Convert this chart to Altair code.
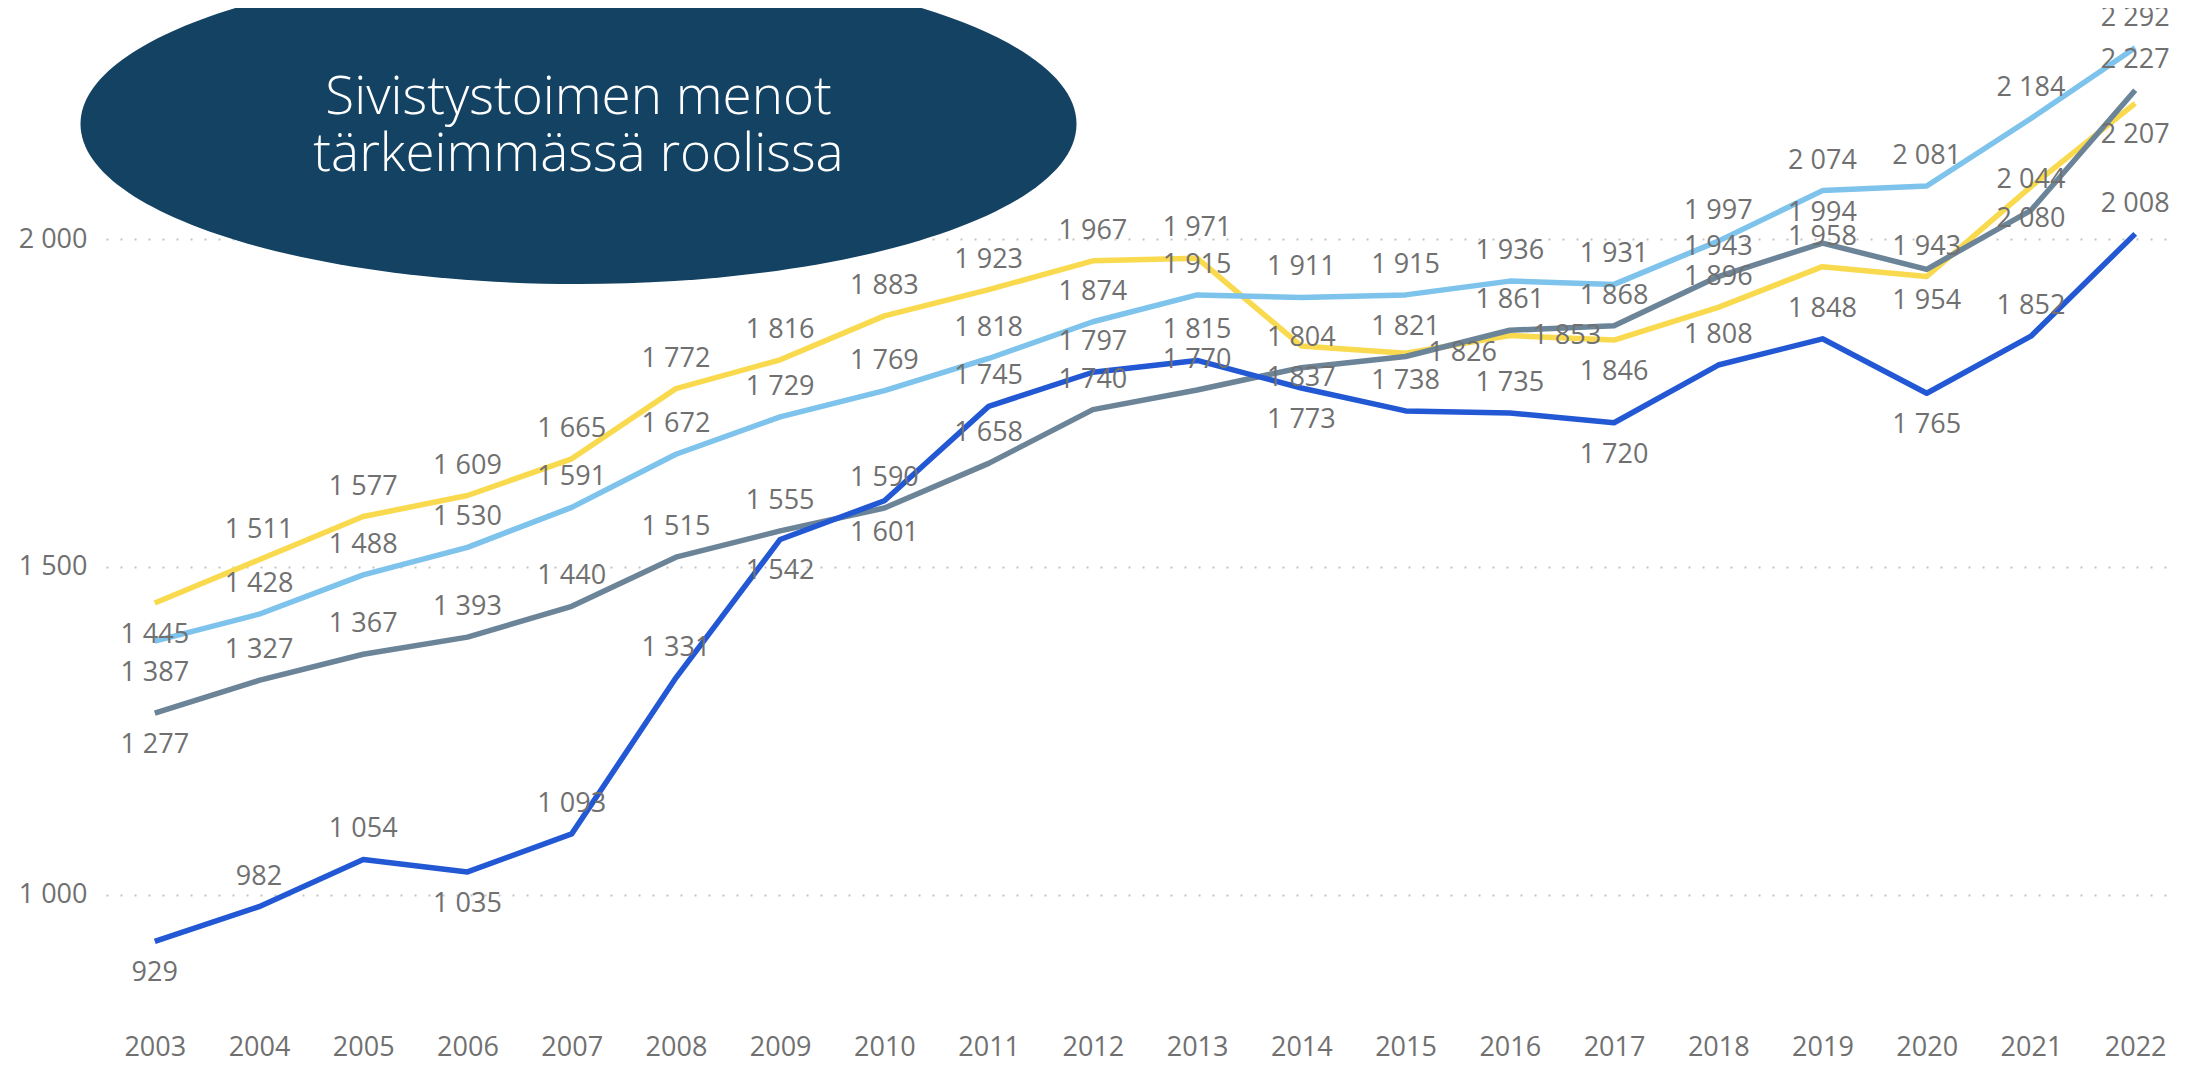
import altair as alt
import pandas as pd

# ---------------- data ----------------
years = list(range(2003, 2023))
series_names = ["Sarja 1", "Sarja 2", "Sarja 3", "Sarja 4"]
series_colors = ["#F9DA4E", "#7DC3EC", "#6C8498", "#2258D4"]

yellow = [1445, 1511, 1577, 1609, 1665, 1772, 1816, 1883, 1923, 1967,
          1971, 1837, 1826, 1853, 1846, 1896, 1958, 1943, 2080, 2207]
light_blue = [1387, 1428, 1488, 1530, 1591, 1672, 1729, 1769, 1818, 1874,
              1915, 1911, 1915, 1936, 1931, 1997, 2074, 2081, 2184, 2292]
gray = [1277, 1327, 1367, 1393, 1440, 1515, 1555, 1590, 1658, 1740,
        1770, 1804, 1821, 1861, 1868, 1943, 1994, 1954, 2044, 2227]
dark_blue = [929, 982, 1054, 1035, 1093, 1331, 1542, 1601, 1745, 1797,
             1815, 1773, 1738, 1735, 1720, 1808, 1848, 1765, 1852, 2008]

# label placement relative to the point: a = above, b = below, r = right
yellow_side = ["b", "a", "a", "a", "a", "a", "a", "a", "a", "a",
               "a", "b", "r", "r", "b", "a", "a", "a", "b", "b"]
light_blue_side = ["b"] + ["a"] * 19
gray_side = ["b", "a", "a", "a", "a", "a", "a", "a", "a", "a",
             "a", "a", "a", "a", "a", "a", "a", "b", "a", "a"]
dark_blue_side = ["b", "a", "a", "b", "a", "a", "b", "b", "a", "a",
                  "a", "b", "a", "a", "b", "a", "a", "b", "a", "a"]

y_ticks = [1000, 1500, 2000]
title_lines = ["Sivistystoimen menot", "tärkeimmässä roolissa"]

rows = []
for name, vals, sides in zip(series_names,
                             [yellow, light_blue, gray, dark_blue],
                             [yellow_side, light_blue_side, gray_side, dark_blue_side]):
    for yr, v, s in zip(years, vals, sides):
        rows.append({"year": yr, "series": name, "value": v, "side": s})
df = pd.DataFrame(rows)

# ---------------- styling ----------------
FONT = "Open Sans"
LABEL_COLOR = "#707070"
FS = 27

x_enc = alt.X(
    "year:Q",
    scale=alt.Scale(domain=[2002.532, 2022.382], nice=False, zero=False),
    axis=alt.Axis(values=years, format="d", title=None, grid=False, domain=False,
                  ticks=False, labelFontSize=FS, labelFont=FONT, labelColor=LABEL_COLOR,
                  labelPadding=8, labelFlush=False, labelOverlap=False),
)
y_enc = alt.Y(
    "value:Q",
    scale=alt.Scale(domain=[800, 2352.5], nice=False, zero=False),
    axis=alt.Axis(values=y_ticks, title=None, domain=False, ticks=False,
                  labelExpr="replace(format(datum.value, ','), ',', ' ')",
                  labelFontSize=FS, labelFont=FONT, labelColor=LABEL_COLOR,
                  labelPadding=19, grid=True, gridColor="#c4c4c4", gridWidth=2,
                  gridDash=[2, 12], labelOverlap=False),
)

base = alt.Chart(df).encode(x=x_enc, y=y_enc)

lines = base.mark_line(strokeWidth=5.5, strokeJoin="round").encode(
    color=alt.Color("series:N", scale=alt.Scale(domain=series_names, range=series_colors),
                    legend=None)
)

lab = base.transform_calculate(
    label="replace(format(datum.value, ','), ',', ' ')"
)


def text_layer(side, dx, dy):
    return lab.transform_filter(alt.datum.side == side).mark_text(
        dx=dx, dy=dy, fontSize=FS, font=FONT, color=LABEL_COLOR,
        align="center", baseline="middle"
    ).encode(text="label:N")


labels = text_layer("a", 0, -30) + text_layer("b", 0, 32) + text_layer("r", 57, 0)

# ---------------- ellipse annotation ----------------
ellipse_path = ("M-1,0C-1,-0.1775,-0.5523,-0.3213,0,-0.3213"
                "C0.5523,-0.3213,1,-0.1775,1,0"
                "C1,0.1775,0.5523,0.3213,0,0.3213"
                "C-0.5523,0.3213,-1,0.1775,-1,0Z")
anno_df = pd.DataFrame({"k": [0]})
ellipse = alt.Chart(anno_df).mark_point(
    shape=ellipse_path, size=992016, filled=True, color="#134263", opacity=1,
    strokeWidth=0
).encode(x=alt.value(472.5), y=alt.value(116))

title_text = alt.Chart(anno_df).mark_text(
    text=title_lines, fontSize=53, font=FONT, fontWeight=300, color="white",
    align="center", baseline="middle", lineHeight=57
).encode(x=alt.value(472.5), y=alt.value(90))

chart = alt.layer(ellipse, lines, labels, title_text).properties(
    width=2069, height=1018,
    autosize=alt.AutoSizeParams(type="none"),
    padding={"left": 98, "top": 0, "right": 0, "bottom": 37},
).configure(background="white").configure_view(stroke="transparent", strokeWidth=0)

chart.save("out.html", embed_options={"renderer": "svg", "actions": False})
